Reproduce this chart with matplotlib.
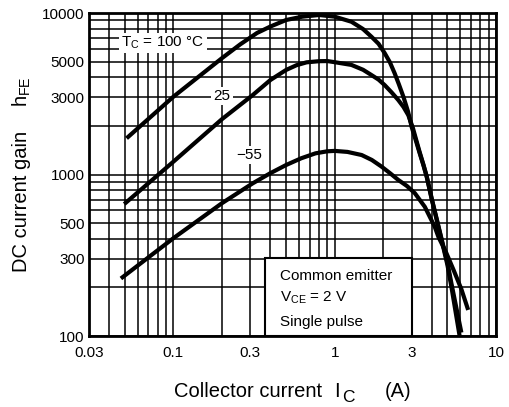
import numpy as np
import matplotlib
matplotlib.use("Agg")
import matplotlib.pyplot as plt
from matplotlib.patches import Rectangle
from matplotlib.ticker import LogLocator, NullFormatter

plt.rcParams['font.family'] = ['Liberation Sans', 'DejaVu Sans']
plt.rcParams['mathtext.fontset'] = 'custom'
plt.rcParams['mathtext.rm'] = 'Liberation Sans'

# hFE vs IC
ic_100 = [0.0513, 0.1, 0.2, 0.26, 0.33, 0.4, 0.5, 0.63, 0.8, 1.0, 1.27, 1.5, 1.69, 1.87, 2.04, 2.2, 2.35,
          2.5, 2.67, 2.85, 3.0, 3.2, 3.36, 3.55, 3.72, 4.0, 4.3, 4.6, 5.0, 5.3, 5.95]
hfe_100 = [1676, 3030, 5250, 6400, 7520, 8250, 9050, 9490, 9720, 9490, 8830, 7950, 7130, 6450, 5650, 4950, 4250,
           3620, 3020, 2450, 1970, 1600, 1360, 1140, 966, 700, 520, 393, 275, 200, 100]

ic_25 = [0.0496, 0.1, 0.2, 0.31, 0.4, 0.5, 0.58, 0.67, 0.8, 0.9, 1.0, 1.27, 1.5, 1.69, 1.87, 2.04, 2.25,
         2.48, 2.67, 2.86, 3.05, 3.2, 3.36, 3.55, 3.72, 4.0, 4.3, 4.6, 5.0, 5.3, 6.1]
hfe_25 = [656, 1200, 2200, 3100, 3850, 4440, 4750, 4950, 5030, 5040, 4960, 4770, 4450, 4130, 3870, 3580, 3230,
          2890, 2620, 2330, 1950, 1640, 1380, 1150, 975, 705, 525, 398, 285, 210, 105]

ic_m55 = [0.0473, 0.1, 0.2, 0.31, 0.4, 0.5, 0.62, 0.76, 0.9, 1.0, 1.2, 1.47, 1.7, 1.95, 2.2, 2.48, 2.8,
          3.14, 3.62, 4.17, 4.4, 4.9, 5.46, 6.1, 6.72]
hfe_m55 = [227, 403, 664, 881, 1020, 1145, 1260, 1352, 1392, 1400, 1380, 1320, 1230, 1120, 1020, 925, 850,
           766, 631, 475, 410, 330, 256, 195, 145]

x_ticks = [0.03, 0.1, 0.3, 1, 3, 10]
x_labels = ['0.03', '0.1', '0.3', '1', '3', '10']
y_ticks = [100, 300, 500, 1000, 3000, 5000, 10000]
y_labels = ['100', '300', '500', '1000', '3000', '5000', '10000']

W, H = 510, 407
fig = plt.figure(figsize=(W / 100, H / 100), dpi=100)
ax = fig.add_axes([89 / W, 71 / H, 407 / W, 323 / H])
ax.set_xscale('log')
ax.set_yscale('log')
ax.set_xlim(0.03, 10)
ax.set_ylim(100, 10000)

ax.xaxis.set_minor_locator(LogLocator(base=10, subs=np.arange(2, 10)))
ax.yaxis.set_minor_locator(LogLocator(base=10, subs=np.arange(2, 10)))
ax.xaxis.set_minor_formatter(NullFormatter())
ax.yaxis.set_minor_formatter(NullFormatter())
ax.grid(True, which='both', color='black', lw=1.1)
ax.set_axisbelow(True)

ax.set_xticks(x_ticks, x_labels)
ax.set_yticks(y_ticks, y_labels)
ax.tick_params(which='both', length=0, labelsize=11)
ax.tick_params(axis='x', pad=7)
ax.tick_params(axis='y', pad=3)
for s in ax.spines.values():
    s.set_linewidth(2)

for x, y in [(ic_100, hfe_100), (ic_25, hfe_25), (ic_m55, hfe_m55)]:
    ax.plot(x, y, color='black', lw=3, zorder=3, solid_capstyle='butt', solid_joinstyle='round')

wbox = dict(facecolor='white', edgecolor='none', pad=1.5)
ax.text(0.086, 6520, 'T$_\\mathrm{C}$ = 100 °C', fontsize=11, ha='center', va='center', bbox=wbox, zorder=4)
ax.text(0.2, 3060, '25', fontsize=11, ha='center', va='center', bbox=wbox, zorder=4)
ax.text(0.297, 1321, '−55', fontsize=11, ha='center', va='center', bbox=wbox, zorder=4)

ax.add_patch(Rectangle((0.369, 100), 3.0 - 0.369, 304 - 100, facecolor='white',
                       edgecolor='black', lw=1.5, zorder=2))
ax.text(0.46, 235, 'Common emitter', fontsize=11, va='center', zorder=4)
ax.text(0.46, 172, 'V$_\\mathrm{CE}$ = 2 V', fontsize=11, va='center', zorder=4)
ax.text(0.46, 122, 'Single pulse', fontsize=11, va='center', zorder=4)

# y label
fig.text(22 / W, 1 - 272 / H, 'DC current gain', rotation=90, fontsize=14.5, ha='center', va='bottom')
fig.text(22 / W, 1 - 76 / H, 'h$_\\mathrm{FE}$', rotation=90, fontsize=14.5, ha='center', va='top')
# x label
fig.text(174 / W, 1 - 397 / H, 'Collector current', fontsize=14.5, ha='left', va='baseline')
fig.text(334 / W, 1 - 397 / H, 'I', fontsize=14.5, ha='left', va='baseline')
fig.text(342 / W, 1 - 402 / H, 'C', fontsize=12.5, ha='left', va='baseline')
fig.text(385 / W, 1 - 397 / H, '(A)', fontsize=14.5, ha='left', va='baseline')

fig.savefig('out.png', dpi=100)
